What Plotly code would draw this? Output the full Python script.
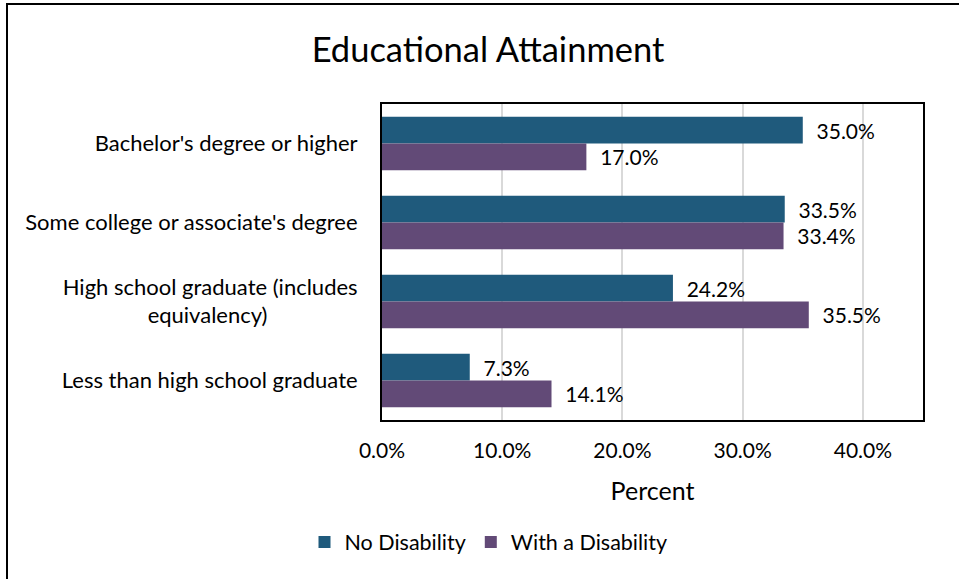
import plotly.graph_objects as go

categories = [
    "Bachelor's degree or higher",
    "Some college or associate's degree",
    "High school graduate (includes<br>equivalency)" + "\u00a0" * 16,
    "Less than high school graduate",
]
no_disability = [35.0, 33.5, 24.2, 7.3]
with_disability = [17.0, 33.4, 35.5, 14.1]
tick_vals = [0, 10, 20, 30, 40]
tick_text = ["0.0%", "10.0%", "20.0%", "30.0%", "40.0%"]

FONT = "Lato"
W, H = 959, 579
L, R, T, B = 382, 36, 104, 159
pw = W - L - R
ph = H - T - B

label_tpl = "\u00a0\u00a0%{x:.1f}%"

fig = go.Figure()
fig.add_trace(go.Bar(
    y=categories, x=no_disability, orientation="h", name="No Disability",
    marker=dict(color="#1F5A7C", line=dict(width=0)),
    texttemplate=label_tpl, textposition="outside",
    textfont=dict(family=FONT, size=21, color="#000000"), cliponaxis=False,
))
fig.add_trace(go.Bar(
    y=categories, x=with_disability, orientation="h", name="With a Disability",
    marker=dict(color="#624A77", line=dict(width=0)),
    texttemplate=label_tpl, textposition="outside",
    textfont=dict(family=FONT, size=21, color="#000000"), cliponaxis=False,
))

fig.update_layout(
    width=W, height=H,
    margin=dict(l=L, r=R, t=T, b=B),
    paper_bgcolor="white", plot_bgcolor="white",
    barmode="group", bargap=0.32, bargroupgap=0,
    font=dict(family=FONT, color="#000000"),
    title=dict(text="Educational Attainment", x=488 / W, xanchor="center",
               y=1 - 50 / H, yanchor="middle", font=dict(size=34.5, family=FONT)),
    xaxis=dict(range=[0, 45], tickvals=tick_vals, ticktext=tick_text,
               showgrid=True, gridcolor="#D9D9D9", gridwidth=2,
               showline=True, linecolor="#000000", linewidth=2, mirror=True,
               zeroline=False, tickfont=dict(size=21), ticklabelstandoff=11,
               title=dict(text="Percent", font=dict(size=25), standoff=21)),
    yaxis=dict(autorange="reversed", showgrid=False, showline=True,
               linecolor="#000000", linewidth=2, mirror=True,
               tickfont=dict(size=22), ticklabelstandoff=18),
    legend=dict(orientation="h", x=(488.5 - L) / pw, xanchor="center",
                y=(H - B - 542) / ph, yanchor="middle", traceorder="normal",
                font=dict(size=21.5), itemwidth=30),
    showlegend=True,
    shapes=[dict(type="rect", xref="paper", yref="paper",
                 x0=(7 - L) / pw, x1=(1000 - L) / pw,
                 y0=(H - B - 620) / ph, y1=(H - B - 4) / ph,
                 line=dict(color="#000000", width=2), layer="below")],
)

fig.write_html("out.html", config={"displayModeBar": False},
               post_script="document.body.style.margin='0';")
